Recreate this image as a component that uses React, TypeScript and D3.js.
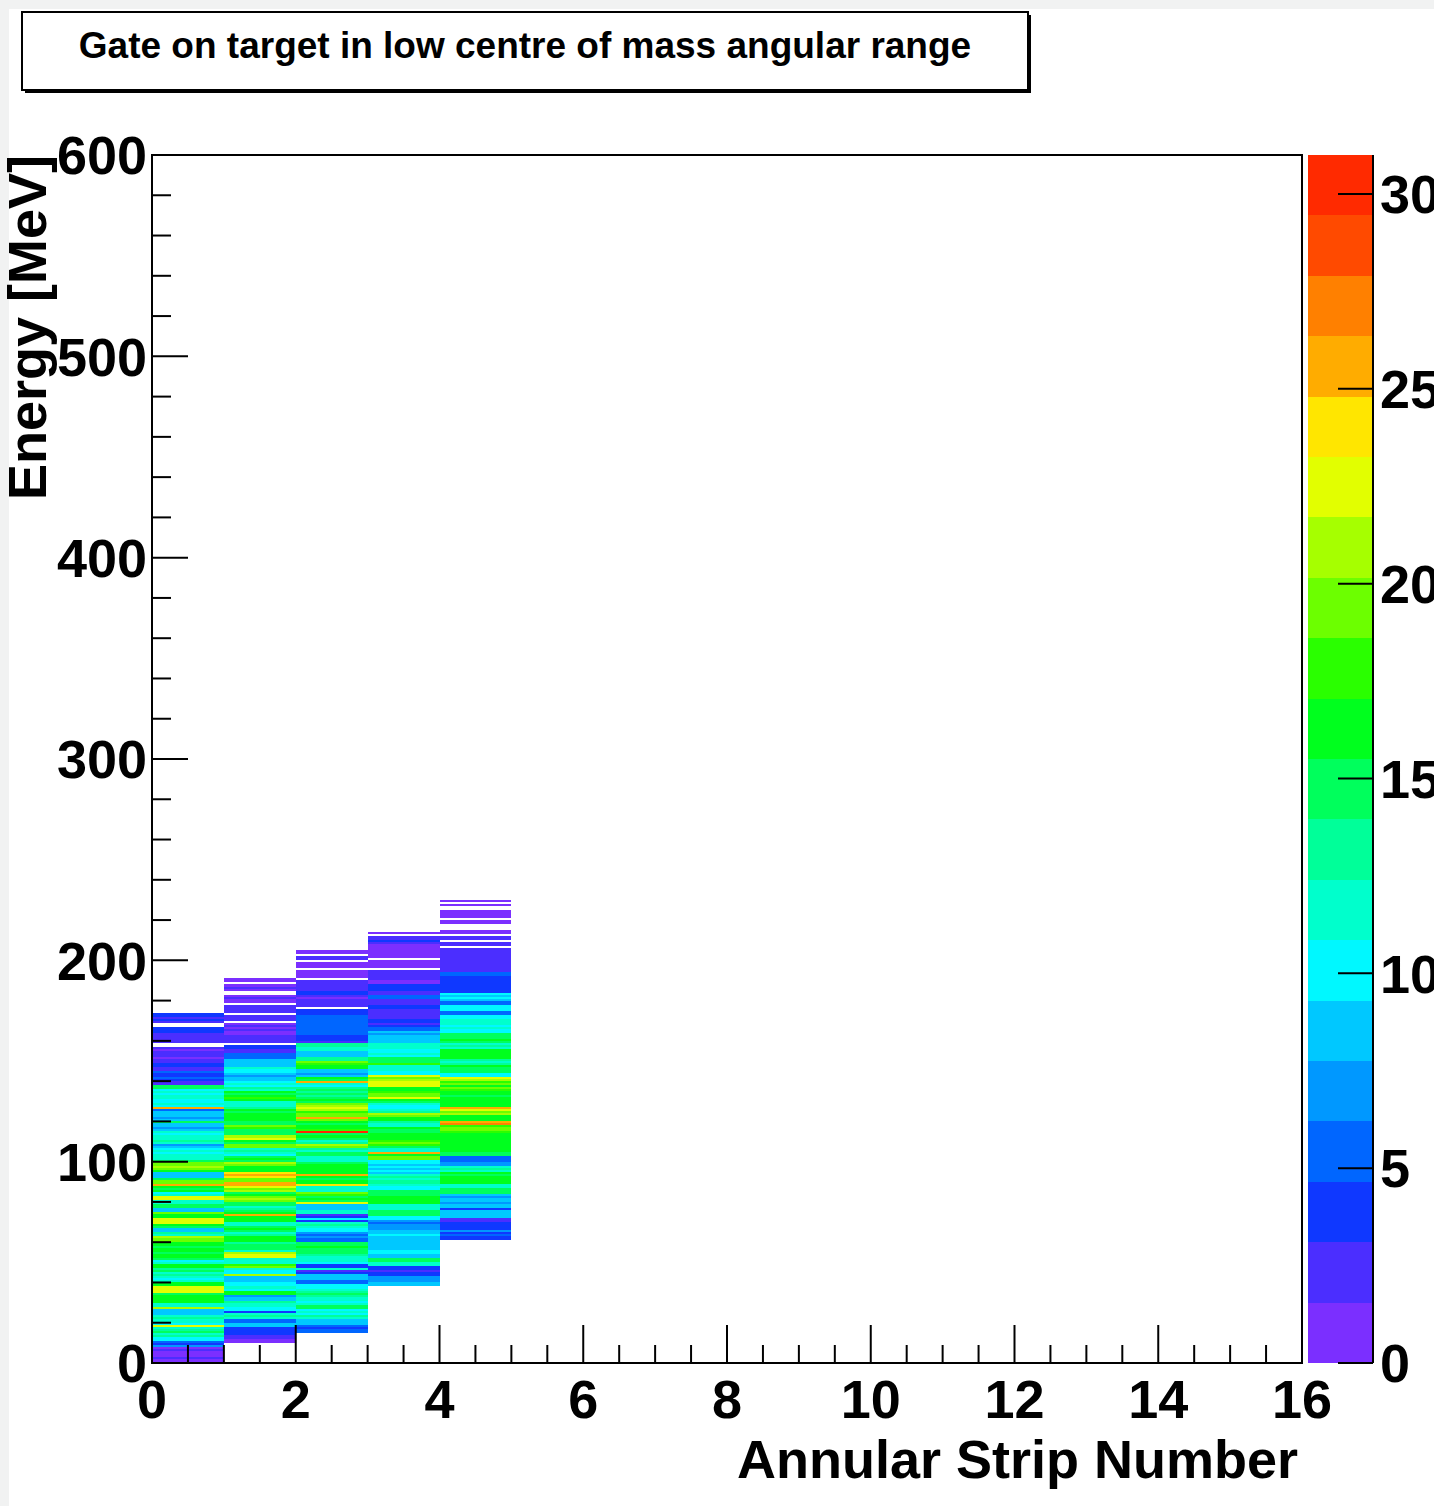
import React from 'react';
import * as d3 from 'd3';

// ---- chart text ----
const TITLE = 'Gate on target in low centre of mass angular range';
const X_TITLE = 'Annular Strip Number';
const Y_TITLE = 'Energy [MeV]';

// ---- axes ----
const X_DOMAIN: [number, number] = [0, 16];
const Y_DOMAIN: [number, number] = [0, 600];
const Z_MAX = 31;
const BIN_MEV = 1;
const xMajorTicks = [0, 2, 4, 6, 8, 10, 12, 14, 16];
const xMinorStep = 0.5;
const yMajorTicks = [0, 100, 200, 300, 400, 500, 600];
const yMinorStep = 20;
const zTicks = [0, 5, 10, 15, 20, 25, 30];

// 20-level violet -> red palette
const palette = [
  '#7b2fff', '#4b2eff', '#0f38ff', '#0066ff', '#0098ff',
  '#00c8ff', '#00f8ff', '#00ffcc', '#00ff99', '#00ff5c',
  '#00ff1e', '#2aff00', '#6cff00', '#a6ff00', '#e2ff00',
  '#ffe600', '#ffac00', '#ff8000', '#ff4a00', '#ff2a00',
];

// ---- histogram contents: counts per 1 MeV energy bin, per annular strip ----
const stripIndex = [0, 1, 2, 3, 4];
const stripStartMeV = [0, 10, 15, 38, 61];

const strip0 = [
  1, 1, 2, 1, 1, 1, 2, 1, 7, 4,
  5, 10, 10, 13, 12, 14, 13, 12, 23, 10,
  11, 12, 13, 12, 9, 8, 9, 21, 12, 11,
  16, 17, 16, 17, 15, 22, 23, 22, 16, 17,
  11, 10, 12, 13, 12, 14, 13, 16, 17, 11,
  10, 15, 17, 16, 15, 17, 16, 15, 17, 16,
  20, 19, 21, 12, 13, 9, 8, 15, 16, 22,
  23, 22, 16, 17, 20, 9, 8, 15, 14, 12,
  11, 23, 22, 11, 10, 16, 15, 16, 25, 19,
  20, 14, 9, 8, 9, 16, 20, 21, 19, 20,
  15, 11, 12, 11, 10, 11, 10, 8, 7, 12,
  13, 12, 11, 10, 11, 8, 7, 8, 8, 14,
  8, 7, 8, 9, 8, 5, 25, 10, 11, 10,
  10, 11, 11, 10, 11, 10, 15, 14, 3, 3,
  4, 5, 4, 4, 5, 2, 2, 4, 4, 2,
  2, 1, 2, 2, 2, 1, 2, 0, 0, 3,
  3, 3, 2, 3, 4, 4, 4, 0, 0, 3,
  4, 3, 4, 4,
];

const strip1 = [
  1, 1, 3, 3, 4, 4, 4, 4, 9, 8,
  5, 5, 12, 13, 12, 4, 10, 10, 11, 12,
  13, 8, 8, 7, 16, 17, 10, 11, 10, 10,
  9, 9, 8, 21, 10, 10, 11, 19, 18, 11,
  12, 11, 22, 23, 21, 12, 14, 15, 14, 13,
  16, 17, 16, 13, 12, 15, 16, 15, 12, 11,
  16, 17, 16, 25, 16, 15, 13, 12, 15, 14,
  20, 21, 19, 16, 15, 21, 20, 22, 25, 26,
  20, 19, 24, 25, 24, 16, 17, 16, 20, 21,
  15, 16, 14, 10, 11, 13, 12, 20, 19, 15,
  16, 22, 21, 14, 15, 14, 18, 19, 15, 14,
  16, 16, 17, 16, 15, 16, 13, 12, 11, 12,
  17, 18, 17, 15, 16, 12, 13, 10, 11, 10,
  9, 8, 7, 8, 10, 10, 11, 9, 8, 9,
  8, 5, 6, 5, 3, 3, 4, 4, 0, 3,
  2, 3, 2, 1, 1, 2, 1, 2, 1, 0,
  2, 3, 2, 0, 2, 3, 2, 3, 0, 1,
  1, 2, 1, 0, 0, 1, 2, 1, 0, 1,
  1,
];

const strip2 = [
  5, 5, 4, 5, 9,
  8, 9, 12, 13, 10, 11, 10, 14, 15, 11,
  10, 11, 12, 13, 14, 13, 12, 10, 10, 5,
  6, 9, 8, 9, 4, 3, 12, 4, 4, 10,
  11, 12, 11, 13, 14, 15, 15, 16, 14, 15,
  5, 5, 7, 6, 7, 10, 10, 12, 13, 12,
  4, 10, 4, 3, 12, 11, 9, 8, 9, 22,
  15, 16, 15, 18, 19, 12, 11, 12, 24, 16,
  17, 15, 16, 25, 16, 17, 16, 17, 16, 15,
  11, 12, 11, 15, 14, 12, 13, 20, 21, 13,
  12, 14, 16, 15, 30, 18, 17, 16, 15, 16,
  19, 26, 19, 20, 18, 21, 22, 21, 20, 15,
  16, 14, 13, 14, 13, 14, 13, 10, 11, 26,
  15, 16, 8, 7, 9, 9, 16, 17, 18, 19,
  13, 13, 9, 8, 9, 12, 12, 13, 13, 3,
  4, 4, 4, 5, 6, 5, 6, 5, 5, 6,
  5, 5, 5, 4, 4, 4, 0, 3, 2, 3,
  2, 1, 2, 4, 4, 3, 2, 3, 2, 3,
  0, 1, 1, 1, 1, 0, 1, 1, 1, 0,
  2, 2, 0, 1, 1,
];

const strip3 = [
  8, 8,
  7, 7, 7, 4, 4, 3, 4, 4, 12, 11,
  14, 14, 9, 9, 10, 10, 8, 9, 8, 8,
  9, 9, 9, 10, 8, 8, 7, 7, 7, 6,
  7, 10, 10, 15, 14, 15, 12, 12, 11, 16,
  17, 16, 16, 15, 14, 15, 10, 10, 11, 13,
  13, 12, 13, 12, 9, 10, 9, 10, 9, 10,
  10, 20, 19, 16, 26, 12, 12, 15, 18, 19,
  18, 16, 17, 16, 15, 15, 16, 12, 12, 13,
  16, 17, 20, 21, 13, 12, 10, 10, 11, 15,
  16, 22, 19, 20, 18, 16, 17, 22, 23, 22,
  21, 20, 22, 10, 10, 11, 12, 12, 18, 14,
  15, 14, 10, 11, 10, 10, 11, 12, 12, 9,
  9, 9, 8, 7, 8, 5, 5, 4, 3, 4,
  4, 3, 2, 3, 3, 3, 4, 4, 3, 2,
  3, 5, 5, 2, 2, 4, 4, 4, 1, 1,
  2, 2, 2, 2, 2, 0, 1, 1, 1, 1,
  0, 1, 1, 1, 1, 1, 1, 1, 3, 4,
  3, 3, 0, 1,
];

const strip4 = [
  4, 4, 5, 4, 7, 4, 4, 4, 4,
  3, 3, 9, 8, 9, 9, 4, 8, 8, 7,
  8, 8, 7, 8, 14, 15, 14, 12, 12, 16,
  16, 17, 16, 15, 16, 12, 13, 12, 7, 7,
  6, 5, 5, 15, 14, 16, 16, 17, 16, 17,
  16, 16, 17, 16, 18, 19, 19, 18, 27, 26,
  16, 17, 16, 21, 20, 22, 26, 16, 17, 16,
  16, 16, 15, 16, 17, 18, 20, 17, 19, 18,
  21, 22, 10, 10, 15, 14, 15, 16, 13, 12,
  13, 16, 17, 16, 17, 16, 12, 13, 12, 15,
  16, 15, 14, 15, 10, 10, 11, 10, 11, 12,
  11, 10, 10, 5, 5, 10, 10, 10, 5, 5,
  9, 10, 9, 10, 4, 4, 4, 4, 4, 4,
  4, 4, 5, 5, 3, 2, 3, 2, 3, 2,
  2, 3, 2, 2, 2, 2, 0, 3, 2, 0,
  2, 2, 0, 1, 1, 0, 0, 0, 1, 1,
  0, 1, 1, 1, 1, 0, 0, 1, 0, 1,
];

const stripCounts = [strip0, strip1, strip2, strip3, strip4];

// ---- layout ----
const W = 1434;
const H = 1506;
const FRAME = { left: 152, right: 1302, top: 155, bottom: 1363 };
const PAL = { left: 1308, right: 1373 };
const FONT = '"Liberation Sans", Arial, Helvetica, sans-serif';

export default function App() {
  const x = d3.scaleLinear().domain(X_DOMAIN).range([FRAME.left, FRAME.right]);
  const y = d3.scaleLinear().domain(Y_DOMAIN).range([FRAME.bottom, FRAME.top]);
  const z = d3.scaleLinear().domain([0, Z_MAX]).range([FRAME.bottom, FRAME.top]);
  const color = d3.scaleQuantize<string>().domain([0, Z_MAX]).range(palette);

  const cells: { key: string; x: number; y: number; w: number; h: number; fill: string }[] = [];
  stripIndex.forEach((s, si) => {
    stripCounts[si].forEach((c, j) => {
      if (c <= 0) return;
      const e0 = stripStartMeV[si] + j * BIN_MEV;
      const e1 = e0 + BIN_MEV;
      const y0 = y(e0);
      const y1 = y(e1);
      cells.push({
        key: `${s}-${j}`,
        x: x(s),
        y: y1,
        w: x(s + 1) - x(s),
        h: y0 - y1,
        fill: color(Math.min(c, Z_MAX - 1e-6)),
      });
    });
  });

  const xMinor = d3.range(X_DOMAIN[0], X_DOMAIN[1] + 1e-9, xMinorStep).filter(
    (v) => !xMajorTicks.includes(v)
  );
  const yMinor = d3.range(Y_DOMAIN[0], Y_DOMAIN[1] + 1e-9, yMinorStep).filter(
    (v) => !yMajorTicks.includes(v)
  );

  const levelEdges = d3.range(palette.length + 1).map((k) => (k * Z_MAX) / palette.length);

  const labelSize = 54;
  const capShift = labelSize * 0.358;

  return (
    <svg
      width={W}
      height={H}
      viewBox={`0 0 ${W} ${H}`}
      style={{ position: 'absolute', left: 0, top: 0, background: '#ffffff' }}
      fontFamily={FONT}
    >
      <rect x={0} y={0} width={W} height={H} fill="#ffffff" />
      <rect x={0} y={0} width={9} height={H} fill="#f1f2f2" />
      <rect x={0} y={0} width={W} height={9} fill="#f1f2f2" />

      {/* title box with drop shadow */}
      <rect x={25} y={15} width={1006} height={78} fill="#000" />
      <rect x={22} y={12} width={1006} height={78} fill="#fff" stroke="#000" strokeWidth={2} />
      <text x={525} y={58} textAnchor="middle" fontSize={37} fontWeight="bold" fill="#000">
        {TITLE}
      </text>

      {/* histogram cells */}
      <g shapeRendering="crispEdges">
        {cells.map((c) => (
          <rect key={c.key} x={c.x} y={c.y} width={c.w} height={c.h} fill={c.fill} />
        ))}
      </g>

      {/* frame */}
      <rect
        x={FRAME.left}
        y={FRAME.top}
        width={FRAME.right - FRAME.left}
        height={FRAME.bottom - FRAME.top}
        fill="none"
        stroke="#000"
        strokeWidth={2}
      />

      {/* x axis ticks */}
      <g stroke="#000" strokeWidth={2}>
        {xMajorTicks.map((v) => (
          <line key={`xM${v}`} x1={x(v)} x2={x(v)} y1={FRAME.bottom} y2={FRAME.bottom - 38} />
        ))}
        {xMinor.map((v) => (
          <line key={`xm${v}`} x1={x(v)} x2={x(v)} y1={FRAME.bottom} y2={FRAME.bottom - 18} />
        ))}
        {yMajorTicks.map((v) => (
          <line key={`yM${v}`} x1={FRAME.left} x2={FRAME.left + 36} y1={y(v)} y2={y(v)} />
        ))}
        {yMinor.map((v) => (
          <line key={`ym${v}`} x1={FRAME.left} x2={FRAME.left + 19} y1={y(v)} y2={y(v)} />
        ))}
      </g>

      {/* tick labels */}
      <g fontSize={labelSize} fontWeight="bold" fill="#000">
        {xMajorTicks.map((v) => (
          <text key={`xl${v}`} x={x(v)} y={1418} textAnchor="middle">
            {v}
          </text>
        ))}
        {yMajorTicks.map((v) => (
          <text key={`yl${v}`} x={147} y={y(v) + capShift} textAnchor="end">
            {v}
          </text>
        ))}
      </g>

      {/* axis titles */}
      <text x={1298} y={1478} textAnchor="end" fontSize={54} fontWeight="bold" fill="#000">
        {X_TITLE}
      </text>
      <text
        transform={`translate(46, ${FRAME.top}) rotate(-90)`}
        textAnchor="end"
        fontSize={54}
        fontWeight="bold"
        fill="#000"
      >
        {Y_TITLE}
      </text>

      {/* colour palette */}
      <g shapeRendering="crispEdges">
        {palette.map((c, k) => (
          <rect
            key={`p${k}`}
            x={PAL.left}
            y={z(levelEdges[k + 1])}
            width={PAL.right - PAL.left}
            height={z(levelEdges[k]) - z(levelEdges[k + 1])}
            fill={c}
          />
        ))}
      </g>
      <line x1={PAL.right} x2={PAL.right} y1={FRAME.top} y2={FRAME.bottom} stroke="#000" strokeWidth={2} />
      <g stroke="#000" strokeWidth={2}>
        {zTicks.map((v) => (
          <line key={`zt${v}`} x1={PAL.right - 35} x2={PAL.right} y1={z(v)} y2={z(v)} />
        ))}
      </g>
      <g fontSize={labelSize} fontWeight="bold" fill="#000">
        {zTicks.map((v) => (
          <text key={`zl${v}`} x={1380} y={z(v) + capShift}>
            {v}
          </text>
        ))}
      </g>
    </svg>
  );
}
